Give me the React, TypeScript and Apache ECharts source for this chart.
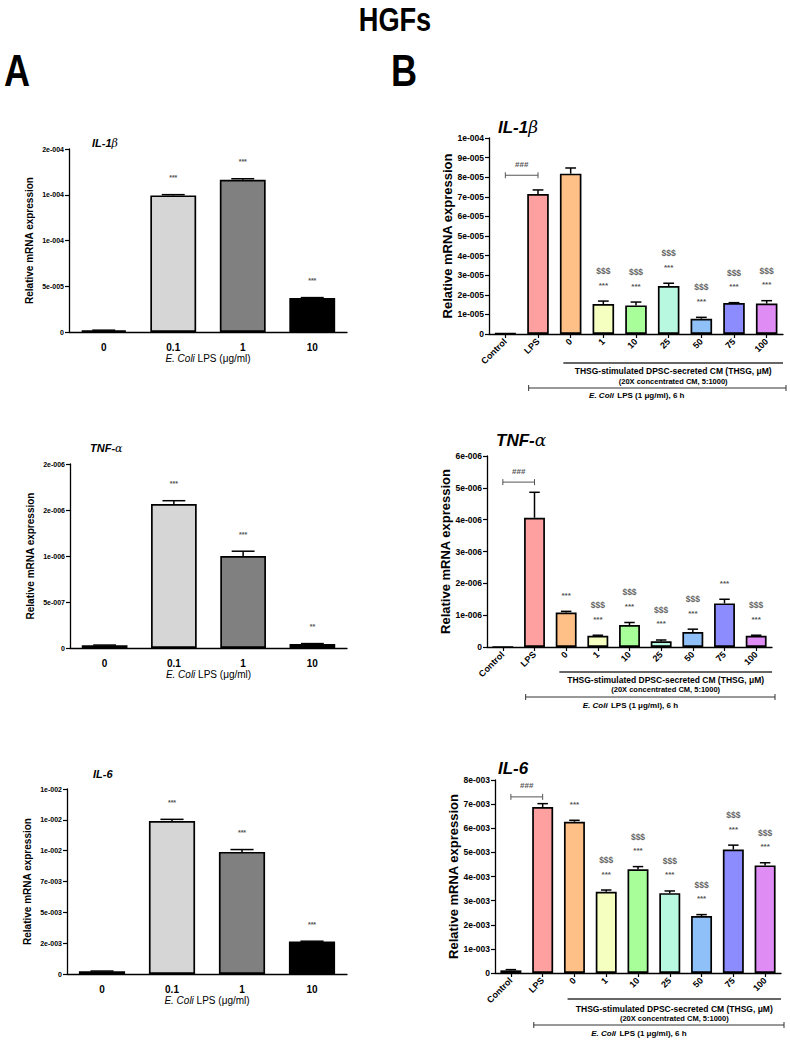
import React, { useEffect, useRef } from "react";
import * as echarts from "echarts";

const FONT = '"Liberation Sans", Arial, Helvetica, sans-serif';

// ---------- Panel A data ----------
const catsA = ["0", "0.1", "1", "10"];
const colorsA = ["#e8e8e8", "#d6d6d6", "#808080", "#000000"];

const il1bA = [1.8e-6, 1.493e-4, 1.664e-4, 3.72e-5];
const il1bAErr = [0.2e-6, 0.8e-6, 1.1e-6, 0.4e-6];
const il1bAStars = ["", "***", "***", "***"];
const il1bATicks = ["0", "5e-005", "1e-004", "1e-004", "2e-004"];

const tnfA = [2.9e-8, 1.565e-6, 1.0e-6, 4.3e-8];
const tnfAErr = [0.3e-8, 3.6e-8, 5.2e-8, 0.5e-8];
const tnfAStars = ["", "***", "***", "**"];
const tnfATicks = ["0", "5e-007", "1e-006", "2e-006", "2e-006"];

const il6A = [0.00022, 0.0124, 0.0099, 0.00263];
const il6AErr = [0.00002, 0.00014, 0.00019, 0.00003];
const il6AStars = ["", "***", "***", "***"];
const il6ATicks = ["0", "2e-003", "5e-003", "7e-003", "1e-002", "1e-002", "1e-002"];

// ---------- Panel B data ----------
const catsB = ["Control", "LPS", "0", "1", "10", "25", "50", "75", "100"];
const colorsB = ["#e2e2e2", "#ffa0a0", "#ffc088", "#f5ffc0", "#a8ff9a", "#b8f8e0", "#90c0f8", "#8c8cff", "#e08cf5"];

const il1bB = [3e-7, 7.14e-5, 8.18e-5, 1.53e-5, 1.46e-5, 2.45e-5, 7.8e-6, 1.58e-5, 1.55e-5];
const il1bBErr = [0, 2.1e-6, 2.9e-6, 1.5e-6, 1.7e-6, 1.4e-6, 7e-7, 2e-7, 1.5e-6];
const il1bBStars = ["", "", "", "***", "***", "***", "***", "***", "***"];
const il1bBDollars = ["", "", "", "$$$", "$$$", "$$$", "$$$", "$$$", "$$$"];
const il1bBHash = 8.1e-5;
const il1bBTicks = ["0", "1e-005", "2e-005", "3e-005", "4e-005", "5e-005", "6e-005", "7e-005", "8e-005", "9e-005", "1e-004"];

const tnfB = [0, 4.06e-6, 1.08e-6, 0.35e-6, 0.69e-6, 0.18e-6, 0.47e-6, 1.37e-6, 0.35e-6];
const tnfBErr = [0, 0.8e-6, 0.04e-6, 0.02e-6, 0.08e-6, 0.04e-6, 0.09e-6, 0.13e-6, 0.02e-6];
const tnfBStars = ["", "", "***", "***", "***", "***", "***", "***", "***"];
const tnfBDollars = ["", "", "", "$$$", "$$$", "$$$", "$$$", "", "$$$"];
const tnfBHash = 5.18e-6;
const tnfBTicks = ["0", "1e-006", "2e-006", "3e-006", "4e-006", "5e-006", "6e-006"];

const il6B = [0.11e-3, 6.88e-3, 6.27e-3, 3.37e-3, 4.3e-3, 3.31e-3, 2.36e-3, 5.12e-3, 4.46e-3];
const il6BErr = [0.03e-3, 0.14e-3, 0.06e-3, 0.07e-3, 0.11e-3, 0.09e-3, 0.06e-3, 0.18e-3, 0.11e-3];
const il6BStars = ["", "", "***", "***", "***", "***", "***", "***", "***"];
const il6BDollars = ["", "", "", "$$$", "$$$", "$$$", "$$$", "$$$", "$$$"];
const il6BHash = 7.3e-3;
const il6BTicks = ["0", "1e-003", "2e-003", "3e-003", "4e-003", "5e-003", "6e-003", "7e-003", "8e-003"];

type Panel = {
  kind: "A" | "B";
  grid: { left: number; top: number; width: number; height: number };
  cats: string[];
  colors: string[];
  values: number[];
  errs: number[];
  stars: string[];
  dollars?: string[];
  hash?: number;
  interval: number;
  ticks: string[];
  title: string;
  titleGreek: string;
  titleX: number;
  titleY: number;
  footer?: number[];
};

const panels: Panel[] = [
  {
    kind: "A", grid: { left: 69, top: 149, width: 278, height: 183 },
    cats: catsA, colors: colorsA, values: il1bA, errs: il1bAErr, stars: il1bAStars,
    interval: 5e-5, ticks: il1bATicks, title: "IL-1", titleGreek: "β", titleX: 92, titleY: 143,
  },
  {
    kind: "A", grid: { left: 70, top: 464, width: 277, height: 184 },
    cats: catsA, colors: colorsA, values: tnfA, errs: tnfAErr, stars: tnfAStars,
    interval: 5e-7, ticks: tnfATicks, title: "TNF-", titleGreek: "α", titleX: 90, titleY: 448,
  },
  {
    kind: "A", grid: { left: 67, top: 789, width: 280, height: 185 },
    cats: catsA, colors: colorsA, values: il6A, errs: il6AErr, stars: il6AStars,
    interval: 2.5e-3, ticks: il6ATicks, title: "IL-6", titleGreek: "", titleX: 93, titleY: 774,
  },
  {
    kind: "B", grid: { left: 489, top: 138, width: 294, height: 196 },
    cats: catsB, colors: colorsB, values: il1bB, errs: il1bBErr, stars: il1bBStars, dollars: il1bBDollars,
    hash: il1bBHash, interval: 1e-5, ticks: il1bBTicks, title: "IL-1", titleGreek: "β", titleX: 498, titleY: 127,
    footer: [29, 37, 47, 54, 61],
  },
  {
    kind: "B", grid: { left: 487, top: 456, width: 285, height: 191 },
    cats: catsB, colors: colorsB, values: tnfB, errs: tnfBErr, stars: tnfBStars, dollars: tnfBDollars,
    hash: tnfBHash, interval: 1e-6, ticks: tnfBTicks, title: "TNF-", titleGreek: "α", titleX: 496, titleY: 440,
    footer: [25, 33, 42, 50, 58],
  },
  {
    kind: "B", grid: { left: 495, top: 780, width: 286, height: 193 },
    cats: catsB, colors: colorsB, values: il6B, errs: il6BErr, stars: il6BStars, dollars: il6BDollars,
    hash: il6BHash, interval: 1e-3, ticks: il6BTicks, title: "IL-6", titleGreek: "", titleX: 498, titleY: 768,
    footer: [26, 36, 45, 52, 60],
  },
];

function centeredText(text: string, x: number, y: number, font: string, scaleX = 1) {
  return {
    type: "text", x, y, scaleX,
    style: { text, font, fill: "#000", align: "center", verticalAlign: "middle", textAlign: "center", textVerticalAlign: "middle" },
  };
}

function buildOption() {
  const grids: any[] = [];
  const xAxes: any[] = [];
  const yAxes: any[] = [];
  const series: any[] = [];
  const graphics: any[] = [];

  graphics.push(centeredText("HGFs", 395, 19, `bold 34px ${FONT}`, 0.8));
  graphics.push(centeredText("A", 17, 71, `bold 44px ${FONT}`, 0.82));
  graphics.push(centeredText("B", 404, 71, `bold 44px ${FONT}`, 0.82));

  panels.forEach((p, gi) => {
    const isA = p.kind === "A";
    const n = p.cats.length;
    const max = p.interval * (p.ticks.length - 1);
    grids.push({ ...p.grid, containLabel: false });

    xAxes.push({
      type: "category", gridIndex: gi, data: p.cats,
      axisLine: { show: true, lineStyle: { color: "#000", width: 1.3 } },
      axisTick: { show: !isA, alignWithLabel: true, length: 4, lineStyle: { color: "#000", width: 1.2 } },
      axisLabel: isA
        ? { fontFamily: FONT, fontWeight: "bold", fontSize: 10, color: "#000", margin: 10 }
        : { fontFamily: FONT, fontWeight: "bold", fontSize: 9, color: "#000", rotate: 45, margin: 6 },
      name: isA ? "{i|E. Coli} LPS (μg/ml)" : "",
      nameLocation: "middle",
      nameGap: 21,
      nameTextStyle: {
        fontFamily: FONT, fontSize: 10, color: "#000",
        rich: { i: { fontFamily: FONT, fontSize: 10, fontStyle: "italic", color: "#000" } },
      },
    });

    yAxes.push({
      type: "value", gridIndex: gi, min: 0, max, interval: p.interval,
      splitLine: { show: false },
      axisLine: { show: true, lineStyle: { color: "#000", width: 1.3 } },
      axisTick: { show: true, length: 4, lineStyle: { color: "#000", width: 1.2 } },
      axisLabel: {
        fontFamily: FONT, fontWeight: "bold", fontSize: isA ? 7 : 8.5, color: "#000", margin: 5,
        formatter: (v: number) => p.ticks[Math.round(v / p.interval)] ?? "",
      },
      name: "Relative mRNA expression",
      nameLocation: "middle",
      nameGap: 35,
      nameTextStyle: { fontFamily: FONT, fontWeight: "bold", fontSize: isA ? 10 : 13, color: "#000" },
    });

    series.push({
      type: "bar", xAxisIndex: gi, yAxisIndex: gi, barWidth: "66%",
      data: p.values.map((v, i) => ({ value: v, itemStyle: { color: p.colors[i] } })),
      itemStyle: { borderColor: "#000", borderWidth: 1.7 },
      z: 2,
    });

    series.push({
      type: "custom", xAxisIndex: gi, yAxisIndex: gi, z: 3, clip: false,
      data: p.values.map((v, i) => [i, v, p.errs[i]]),
      renderItem: (params: any, api: any) => {
        const i = api.value(0), v = api.value(1), e = api.value(2);
        if (e <= 0) return null;
        const a = api.coord([i, v]);
        const b = api.coord([i, v + e]);
        const bw = api.size([1, 0])[0] * 0.66;
        const cap = bw * 0.25;
        return {
          type: "group",
          children: [
            { type: "line", shape: { x1: a[0], y1: a[1], x2: b[0], y2: b[1] }, style: { stroke: "#000", lineWidth: 1.5 } },
            { type: "line", shape: { x1: b[0] - cap, y1: b[1], x2: b[0] + cap, y2: b[1] }, style: { stroke: "#000", lineWidth: 1.5 } },
          ],
        };
      },
    });

    series.push({
      type: "custom", xAxisIndex: gi, yAxisIndex: gi, z: 4, clip: false,
      data: p.values.map((v, i) => [i, v + p.errs[i]]),
      renderItem: (params: any, api: any) => {
        const idx = params.dataIndex;
        const pt = api.coord([api.value(0), api.value(1)]);
        const children: any[] = [];
        const s = p.stars[idx];
        const d = p.dollars ? p.dollars[idx] : "";
        if (s) {
          children.push({
            type: "text", x: pt[0], y: pt[1] - (isA ? 17 : 16),
            style: { text: s, font: `bold ${isA ? 7 : 8}px ${FONT}`, fill: "#555", align: "center", verticalAlign: "middle" },
          });
        }
        if (d) {
          children.push({
            type: "text", x: pt[0], y: pt[1] - 30,
            style: { text: d, font: `bold 8.5px ${FONT}`, fill: "#666", align: "center", verticalAlign: "middle" },
          });
        }
        return { type: "group", children };
      },
    });

    if (p.hash !== undefined) {
      series.push({
        type: "custom", xAxisIndex: gi, yAxisIndex: gi, z: 4, clip: false,
        data: [[0, p.hash]],
        renderItem: (params: any, api: any) => {
          const a = api.coord([0, api.value(1)]);
          const b = api.coord([1, api.value(1)]);
          const st = { stroke: "#555", lineWidth: 1 };
          return {
            type: "group",
            children: [
              { type: "line", shape: { x1: a[0], y1: a[1], x2: b[0], y2: b[1] }, style: st },
              { type: "line", shape: { x1: a[0], y1: a[1] - 3, x2: a[0], y2: a[1] + 3 }, style: st },
              { type: "line", shape: { x1: b[0], y1: b[1] - 3, x2: b[0], y2: b[1] + 3 }, style: st },
              {
                type: "text", x: (a[0] + b[0]) / 2, y: a[1] - 11,
                style: { text: "###", font: `bold 8px ${FONT}`, fill: "#555", align: "center", verticalAlign: "middle" },
              },
            ],
          };
        },
      });
    }

    const tSize = isA ? 11 : 17;
    graphics.push({
      type: "text", x: p.titleX, y: p.titleY,
      style: {
        text: p.titleGreek ? `{t|${p.title}}{g|${p.titleGreek}}` : `{t|${p.title}}`,
        verticalAlign: "middle", textVerticalAlign: "middle",
        rich: {
          t: { fontFamily: FONT, fontWeight: "bold", fontStyle: "italic", fontSize: tSize, fill: "#000", color: "#000" },
          g: { fontFamily: '"DejaVu Serif", "Liberation Serif", serif', fontStyle: "italic", fontSize: tSize, fill: "#000", color: "#000" },
        },
      },
    });

    if (p.footer) {
      const g = p.grid;
      const band = g.width / n;
      const bottom = g.top + g.height;
      const [u, t1, t2, br, t3] = p.footer;
      const ux1 = g.left + 2 * band + 9;
      const ux2 = g.left + g.width;
      const bx1 = g.left + band + 7;
      const bx2 = g.left + g.width + 3;
      graphics.push({
        type: "line", shape: { x1: ux1, y1: bottom + u, x2: ux2, y2: bottom + u }, style: { stroke: "#333", lineWidth: 1.3 },
      });
      graphics.push(centeredText("THSG-stimulated DPSC-secreted CM (THSG, μM)", (ux1 + ux2) / 2, bottom + t1, `bold 8.5px ${FONT}`));
      graphics.push(centeredText("(20X concentrated CM, 5:1000)", (ux1 + ux2) / 2, bottom + t2, `bold 7.5px ${FONT}`));
      const bst = { stroke: "#333", lineWidth: 1 };
      graphics.push({ type: "line", shape: { x1: bx1, y1: bottom + br, x2: bx2, y2: bottom + br }, style: bst });
      graphics.push({ type: "line", shape: { x1: bx1, y1: bottom + br - 3, x2: bx1, y2: bottom + br + 3 }, style: bst });
      graphics.push({ type: "line", shape: { x1: bx2, y1: bottom + br - 3, x2: bx2, y2: bottom + br + 3 }, style: bst });
      graphics.push({
        type: "text", x: bx1 + (bx2 - bx1) * 0.42, y: bottom + t3,
        style: {
          text: "{i|E. Coli} {n|LPS (1 μg/ml), 6 h}",
          align: "center", verticalAlign: "middle", textAlign: "center", textVerticalAlign: "middle",
          rich: {
            i: { fontFamily: FONT, fontStyle: "italic", fontWeight: "bold", fontSize: 8, fill: "#000", color: "#000" },
            n: { fontFamily: FONT, fontWeight: "bold", fontSize: 8, fill: "#000", color: "#000" },
          },
        },
      });
    }
  });

  return {
    animation: false,
    backgroundColor: "#ffffff",
    textStyle: { fontFamily: FONT },
    grid: grids,
    xAxis: xAxes,
    yAxis: yAxes,
    series,
    graphic: graphics,
  };
}

export default function App() {
  const ref = useRef<HTMLDivElement>(null);
  useEffect(() => {
    if (!ref.current) return;
    const chart = echarts.init(ref.current, undefined, { renderer: "svg" });
    chart.setOption(buildOption() as any);
    return () => chart.dispose();
  }, []);
  return (
    <div
      ref={ref}
      style={{ position: "absolute", left: 0, top: 0, width: 790, height: 1040, background: "#fff" }}
    />
  );
}
